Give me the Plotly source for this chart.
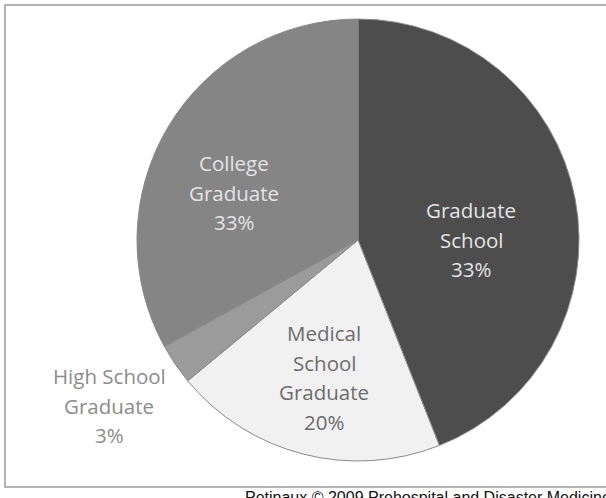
import plotly.graph_objects as go

W, H = 606, 498

# Data (slice sizes; labels as printed)
categories = ["Graduate School", "Medical School Graduate", "High School Graduate", "College Graduate"]
values = [44, 20, 3, 33]
label_lines = [["Graduate", "School"], ["Medical", "School", "Graduate"], ["High School", "Graduate"], ["College", "Graduate"]]
pct_labels = ["33%", "20%", "3%", "33%"]

slice_colors = ["#4d4d4d", "#f1f1f1", "#9b9b9b", "#858585"]
text_colors = ["#e4e4e4", "#6c6c6c", "#8c8c8c", "#e4e4e4"]
# label centres in pixels (x, first line y)
label_pos = [(471, 210), (324, 333), (109, 376), (234, 163)]
line_step = 29.7

cx, cy, r = 358, 240, 221

fig = go.Figure(go.Pie(
    labels=categories,
    values=values,
    sort=False,
    direction="clockwise",
    rotation=0,
    textinfo="none",
    hoverinfo="label+percent",
    marker=dict(colors=slice_colors, line=dict(color="#8a8a8a", width=1)),
    domain=dict(x=[(cx - r) / W, (cx + r) / W], y=[1 - (cy + r) / H, 1 - (cy - r) / H]),
    showlegend=False,
))

annotations = []
for lines, pct, col, (px, py) in zip(label_lines, pct_labels, text_colors, label_pos):
    for i, t in enumerate(lines + [pct]):
        annotations.append(dict(
            x=px / W, y=1 - (py + i * line_step) / H, xref="paper", yref="paper",
            xanchor="center", yanchor="middle", align="center",
            text=t, showarrow=False,
            font=dict(family="Open Sans", size=20.5, color=col),
        ))

annotations.append(dict(
    x=243 / W, y=1 - 497 / H, xref="paper", yref="paper",
    xanchor="left", yanchor="middle",
    text="Petinaux © 2009 Prehospital and Disaster Medicine",
    showarrow=False,
    font=dict(family="Liberation Sans, Arial", size=16, color="#111111"),
))

fig.update_layout(
    width=W, height=H,
    margin=dict(l=0, r=0, t=0, b=0),
    paper_bgcolor="white",
    plot_bgcolor="white",
    annotations=annotations,
    shapes=[dict(type="rect", xref="paper", yref="paper",
                 x0=5 / W, x1=1.02, y0=1 - 487 / H, y1=1 - 5 / H,
                 line=dict(color="#9a9a9a", width=1.5), layer="below")],
)

fig.write_html("out.html")
